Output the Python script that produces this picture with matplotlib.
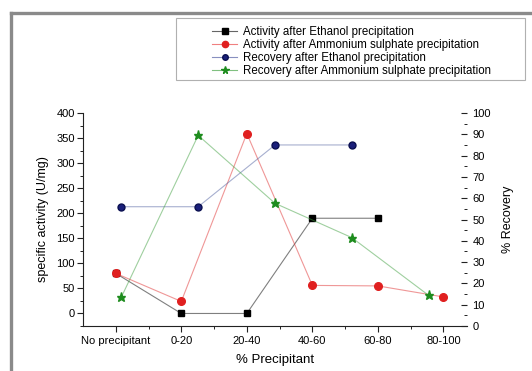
import matplotlib
matplotlib.use("Agg")
import matplotlib.pyplot as plt
from matplotlib.lines import Line2D
from matplotlib.patches import Rectangle
from matplotlib.ticker import MultipleLocator, FixedLocator

plt.rcParams['font.family'] = ['Liberation Sans', 'DejaVu Sans']

categories = ["No precipitant", "0-20", "20-40", "40-60", "60-80", "80-100"]
act_ethanol = [80, 0, 0, 190, 190]
act_ammonium = [80, 24, 359, 56, 55, 33]
rec_ethanol = [56, 56, 85, 85]
rec_ammonium = [13.6, 89.5, 57.6, 41.5, 14.4]

W, H = 532, 371
fig = plt.figure(figsize=(W / 100, H / 100), dpi=100)
fig.patch.set_facecolor('white')

def fx(px):
    return px / W

def fy(py):
    return 1 - py / H

left, right, top, bottom = 83, 467, 113, 326
pos = [fx(left), fy(bottom), fx(right) - fx(left), fy(top) - fy(bottom)]
ax = fig.add_axes(pos)
ax2 = fig.add_axes(pos, frameon=False)

lw = 0.8
ms = 5
# Activity on main axis (categorical positions)
xa = list(range(len(categories)))
ax.plot(xa[:len(act_ethanol)], act_ethanol, color='#000000', alpha=0.5, lw=lw, zorder=2)
ax.plot(xa[:len(act_ethanol)], act_ethanol, ls='none', marker='s', ms=ms, color='black', zorder=3)
ax.plot(xa, act_ammonium, color='#e03030', alpha=0.5, lw=lw, zorder=2)
ax.plot(xa, act_ammonium, ls='none', marker='o', ms=ms + 0.5, color='#e02020', zorder=4)

ax.set_xlim(-0.5, 5.36)
ax.set_ylim(-25, 400)
ax.xaxis.set_major_locator(FixedLocator(xa))
ax.xaxis.set_minor_locator(FixedLocator([i + 0.5 for i in xa[:-1]]))
ax.set_xticklabels(categories)
ax.yaxis.set_major_locator(FixedLocator(list(range(0, 401, 50))))
ax.yaxis.set_minor_locator(MultipleLocator(25))
ax.spines['top'].set_visible(False)
ax.spines['right'].set_visible(False)
for s in ('left', 'bottom'):
    ax.spines[s].set_linewidth(0.8)
    ax.spines[s].set_color('#222222')
ax.tick_params(which='major', direction='out', length=4, width=0.8, labelsize=8, color='#222222', pad=2)
ax.tick_params(which='minor', direction='out', length=2.5, width=0.7, color='#222222')
ax.tick_params(axis='x', pad=3)
ax.set_xlabel('% Precipitant', fontsize=9.5, labelpad=6)
ax.set_ylabel('specific activity (U/mg)', fontsize=9, labelpad=5)

# Recovery on a separate axis spanning the same box
xr = [i + 0.5 for i in range(5)]
ax2.plot(xr[:len(rec_ethanol)], rec_ethanol, color='#5060a0', alpha=0.5, lw=lw, zorder=2)
ax2.plot(xr[:len(rec_ethanol)], rec_ethanol, ls='none', marker='o', ms=ms, color='#1a1f7a',
         markeredgecolor='#0a0f50', zorder=3)
ax2.plot(xr, rec_ammonium, color='#40a040', alpha=0.5, lw=lw, zorder=2)
ax2.plot(xr, rec_ammonium, ls='none', marker='*', ms=ms + 1.5, color='#1e8c1e', zorder=3)
ax2.set_xlim(0, 5)
ax2.set_ylim(0, 100)
ax2.xaxis.set_visible(False)
ax2.yaxis.tick_right()
ax2.yaxis.set_label_position('right')
ax2.yaxis.set_major_locator(MultipleLocator(10))
ax2.yaxis.set_minor_locator(MultipleLocator(5))
ax2.spines['right'].set_visible(True)
ax2.spines['right'].set_linewidth(0.8)
ax2.spines['right'].set_color('#222222')
for s in ('left', 'top', 'bottom'):
    ax2.spines[s].set_visible(False)
ax2.tick_params(which='major', direction='in', length=4, width=0.8, labelsize=8, color='#222222', pad=4)
ax2.tick_params(which='minor', direction='in', length=2.5, width=0.7, color='#222222')
ax2.set_ylabel('% Recovery', fontsize=9, labelpad=8)

# Legend
handles = [
    Line2D([], [], color='#666666', lw=lw, marker='s', ms=4, markerfacecolor='black', markeredgecolor='black'),
    Line2D([], [], color='#f08080', lw=lw, marker='o', ms=4.5, markerfacecolor='#e02020', markeredgecolor='#e02020'),
    Line2D([], [], color='#8890c0', lw=lw, marker='o', ms=4, markerfacecolor='#1a1f7a', markeredgecolor='#0a0f50'),
    Line2D([], [], color='#80c080', lw=lw, marker='*', ms=5.5, markerfacecolor='#1e8c1e', markeredgecolor='#1e8c1e'),
]
labels = ["Activity after Ethanol precipitation",
          "Activity after Ammonium sulphate precipitation",
          "Recovery after Ethanol precipitation",
          "Recovery after Ammonium sulphate precipitation"]
fig.legend(handles, labels, loc='upper left', bbox_to_anchor=(fx(212), fy(26)),
           frameon=False, borderpad=0, fontsize=8.3, handlelength=2.2,
           handletextpad=0.45, labelspacing=0.1, borderaxespad=0)
fig.patches.append(Rectangle((fx(176), fy(80)), fx(525) - fx(176), fy(18) - fy(80),
                             transform=fig.transFigure, fill=False, edgecolor='#b0b0b0', lw=0.8))

# Gray border (top and left) of the original screenshot
fig.add_artist(Line2D([fx(10.5), 1], [fy(13), fy(13)], transform=fig.transFigure, color='#8a8a8a', lw=2.4))
fig.add_artist(Line2D([fx(10.5), fx(10.5)], [fy(13), 0], transform=fig.transFigure, color='#8a8a8a', lw=2.4))

fig.savefig('out.png', dpi=100, facecolor='white')
